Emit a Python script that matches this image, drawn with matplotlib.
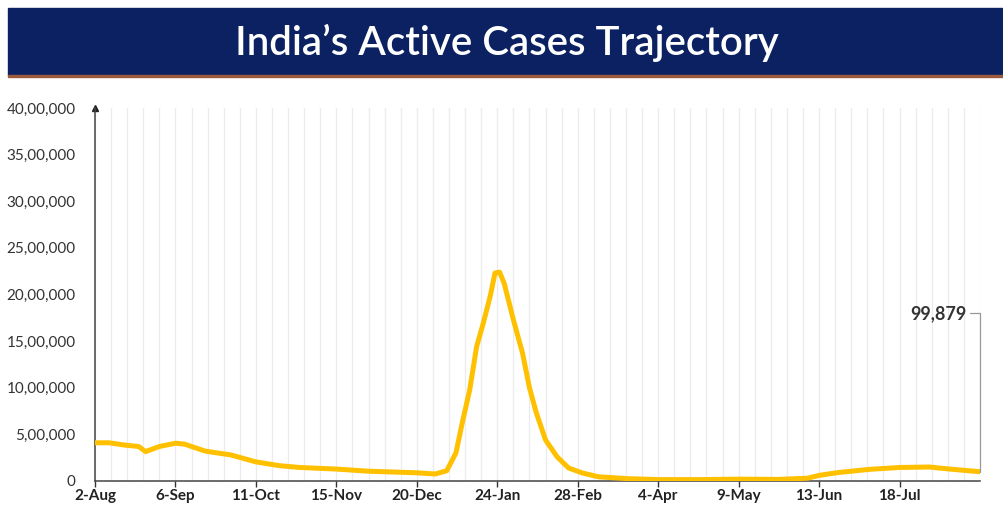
import datetime as dt

import matplotlib
matplotlib.use("Agg")
import matplotlib.dates as mdates
import matplotlib.pyplot as plt
from matplotlib.patches import Rectangle
from matplotlib.ticker import FuncFormatter, FixedLocator

# ---------------------------------------------------------------
# Data
# ---------------------------------------------------------------

DATES = [
    "2021-08-02", "2021-08-08", "2021-08-15", "2021-08-21", "2021-08-24",
    "2021-08-30", "2021-09-06", "2021-09-10", "2021-09-19", "2021-09-30",
    "2021-10-11", "2021-10-21", "2021-10-30", "2021-11-15", "2021-11-29",
    "2021-12-20", "2021-12-28", "2022-01-02", "2022-01-06", "2022-01-09",
    "2022-01-12", "2022-01-15", "2022-01-18", "2022-01-21", "2022-01-23",
    "2022-01-25", "2022-01-27", "2022-01-31", "2022-02-04", "2022-02-07",
    "2022-02-10", "2022-02-14", "2022-02-19", "2022-02-24", "2022-03-02",
    "2022-03-09", "2022-03-22", "2022-04-04", "2022-04-22", "2022-05-09",
    "2022-05-26", "2022-06-08", "2022-06-13", "2022-06-21", "2022-07-05",
    "2022-07-18", "2022-07-31", "2022-08-08", "2022-08-17", "2022-08-22",
]

ACTIVE_CASES = [
    410000, 410000, 385000, 370000, 315000,
    370000, 405000, 395000, 320000, 280000,
    205000, 165000, 145000, 128000, 105000,
    88000, 75000, 110000, 300000, 650000,
    975000, 1440000, 1700000, 1990000, 2230000,
    2240000, 2120000, 1730000, 1370000, 1000000,
    730000, 440000, 260000, 140000, 86000,
    45000, 25000, 15000, 15000, 20000,
    17000, 30000, 60000, 90000, 125000,
    145000, 150000, 130000, 110000, 99879,
]

TICK_DATES = [
    "2021-08-02", "2021-09-06", "2021-10-11", "2021-11-15", "2021-12-20",
    "2022-01-24", "2022-02-28", "2022-04-04", "2022-05-09", "2022-06-13",
    "2022-07-18",
]
TICK_LABELS = [
    "2-Aug", "6-Sep", "11-Oct", "15-Nov", "20-Dec",
    "24-Jan", "28-Feb", "4-Apr", "9-May", "13-Jun", "18-Jul",
]

Y_TICKS = [0, 500000, 1000000, 1500000, 2000000, 2500000, 3000000, 3500000, 4000000]

TITLE = "India\u2019s Active Cases Trajectory"
LAST_LABEL = "99,879"

LINE_COLOR = "#FFC000"
BANNER_COLOR = "#0b2161"
TEXT_COLOR = "#333333"

plt.rcParams["font.family"] = ["Lato", "DejaVu Sans"]


def indian_format(v, pos=None):
    n = int(round(v))
    if n == 0:
        return "0"
    s = str(n)
    last3 = s[-3:]
    rest = s[:-3]
    groups = []
    while len(rest) > 2:
        groups.insert(0, rest[-2:])
        rest = rest[:-2]
    if rest:
        groups.insert(0, rest)
    return ",".join(groups + [last3])


def to_num(dates):
    return [mdates.date2num(dt.datetime.strptime(d, "%Y-%m-%d")) for d in dates]


def main():
    fig = plt.figure(figsize=(10.04, 5.12), dpi=100)

    # title banner
    fig.patches.append(Rectangle((8 / 1004, 437 / 512), 1 - 8 / 1004, 67 / 512,
                                 transform=fig.transFigure, color=BANNER_COLOR,
                                 zorder=0))
    fig.patches.append(Rectangle((8 / 1004, 435 / 512), 1 - 8 / 1004, 2.5 / 512,
                                 transform=fig.transFigure, color="#9c5b3f",
                                 zorder=0))
    fig.text(0.505, 469 / 512, TITLE, ha="center", va="center",
             color="white", fontsize=29, fontweight="semibold")

    ax = fig.add_axes([95 / 1004, 31 / 512, 885 / 1004, 373 / 512])

    x = to_num(DATES)
    ax.plot(x, ACTIVE_CASES, color=LINE_COLOR, linewidth=3.6,
            solid_joinstyle="round", solid_capstyle="round", zorder=3)

    x0 = x[0]
    x1 = x[-1]
    ax.set_xlim(x0, x1)
    ax.set_ylim(0, 4000000)

    ticks = to_num(TICK_DATES)
    ax.xaxis.set_major_locator(FixedLocator(ticks))
    ax.set_xticklabels(TICK_LABELS, fontweight="bold", fontsize=11,
                       color="#222222")
    weekly = [x0 + 7 * i for i in range(int((x1 - x0) // 7) + 1)]
    ax.xaxis.set_minor_locator(FixedLocator(weekly))
    ax.tick_params(axis="x", which="major", length=4, width=1,
                   color=TEXT_COLOR, pad=2)
    ax.tick_params(axis="x", which="minor", length=0)
    ax.grid(axis="x", which="both", color="#ececec", linewidth=0.9, zorder=0)

    ax.set_yticks(Y_TICKS)
    ax.yaxis.set_major_formatter(FuncFormatter(indian_format))
    ax.tick_params(axis="y", length=0, pad=14, labelsize=11,
                   labelcolor=TEXT_COLOR)

    for side in ("top", "right"):
        ax.spines[side].set_visible(False)
    for side in ("left", "bottom"):
        ax.spines[side].set_color("#444444")
        ax.spines[side].set_linewidth(1.1)
    ax.plot(0, 1, marker="^", color="#222222", markersize=4,
            transform=ax.transAxes, clip_on=False)

    ax.annotate(LAST_LABEL, xy=(x[-1], ACTIVE_CASES[-1]),
                xytext=(-10, 114), textcoords="offset points",
                ha="right", va="center", fontsize=13, fontweight="bold",
                color=TEXT_COLOR,
                arrowprops=dict(arrowstyle="-", color="#999999", lw=0.9,
                                shrinkA=1, shrinkB=0,
                                connectionstyle="angle,angleA=0,angleB=90,rad=0"))

    fig.savefig("out.png", dpi=100)


if __name__ == "__main__":
    main()
